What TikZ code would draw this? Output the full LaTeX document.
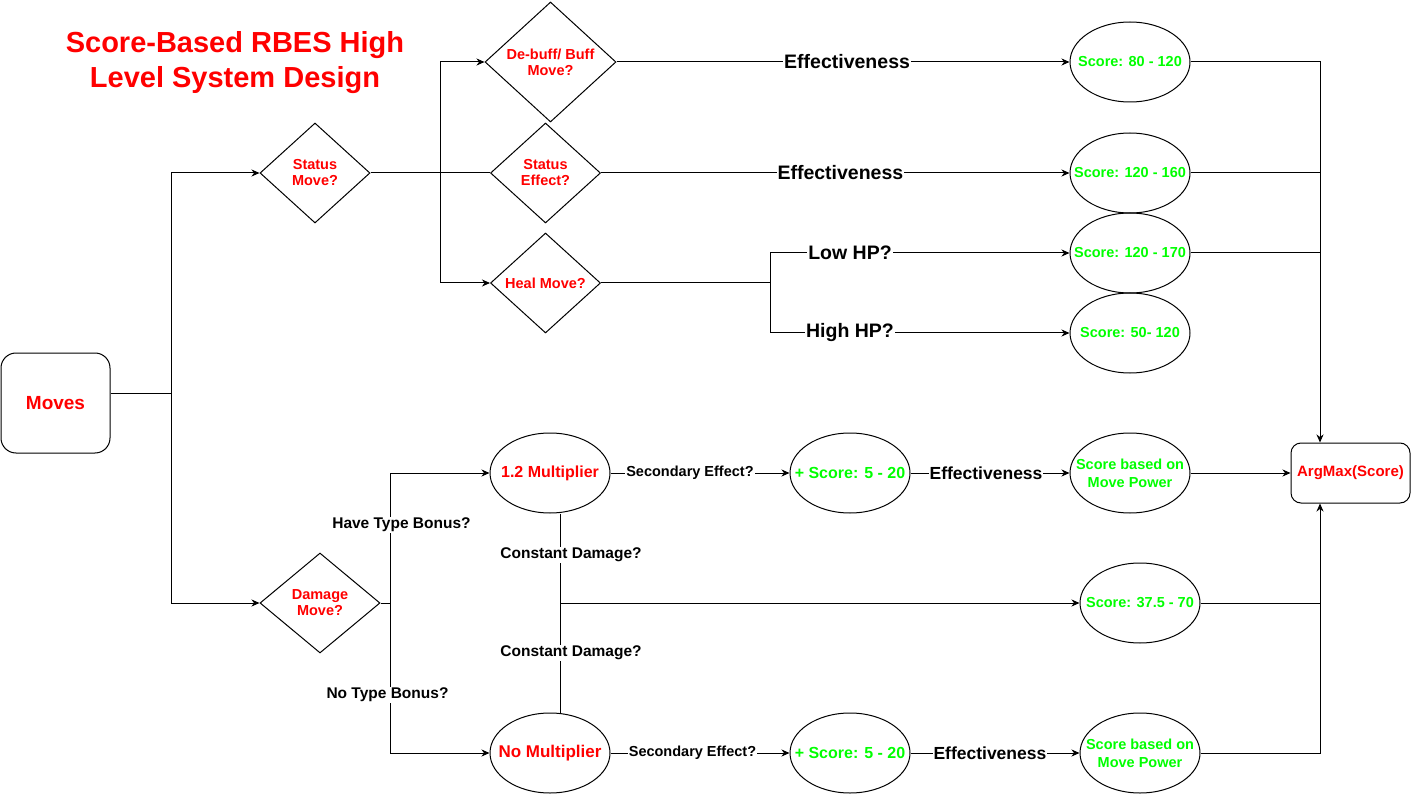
\documentclass[tikz,border=0pt]{standalone}
\usepackage{fontspec}
\setmainfont{Liberation Sans}
\usetikzlibrary{shapes.geometric,arrows.meta}
\definecolor{myred}{RGB}{255,0,0}
\definecolor{mygreen}{RGB}{0,255,0}
\newcommand{\fsz}[2]{\fontsize{#1}{#2}\selectfont}
\begin{document}
\begin{tikzpicture}[x=1pt,y=-1pt,line width=1pt,
  arr/.style={-{Stealth[length=8pt,width=7pt,inset=2.5pt]}},
  dia/.style={draw,diamond,inner sep=0pt},
  ell/.style={draw,ellipse,minimum width=120pt,minimum height=80pt,inner sep=0pt},
  rtxt/.style={text=myred,font=\bfseries\fsz{14.5}{16}},
  gtxt/.style={text=mygreen,font=\bfseries\fsz{14.5}{18},align=center,inner sep=0pt},
  biglbl/.style={fill=white,inner sep=1pt,font=\bfseries\fsz{19.5}{22}},
  medlbl/.style={fill=white,inner sep=1pt,font=\bfseries\fsz{17.5}{20}},
  smlbl/.style={fill=white,inner sep=1pt,font=\bfseries\fsz{14.5}{17}},
  qlbl/.style={fill=white,inner sep=1pt,font=\bfseries\fsz{15.5}{18}}
]
\tikzset{rtxt/.append style={align=center,inner sep=0pt}}
\useasboundingbox (0,0) rectangle (1411,794);
% title
\node[text=myred,font=\bfseries\fsz{29}{34.5},align=center] (title) at (235,62.5) {Score-Based RBES High\\Level System Design};
% boxes
\node[draw,rounded corners=15pt,minimum width=109pt,minimum height=100pt,text=myred,font=\bfseries\fsz{19}{22}] (moves) at (55.5,403) {Moves};
\node[draw,rounded corners=10pt,minimum width=119pt,minimum height=60pt,text=myred,font=\bfseries\fsz{15}{18}] (am) at (1350.5,473) {ArgMax(Score)};
% diamonds
\node[dia,minimum width=110pt,minimum height=100pt,label={[rtxt]center:{Status\\Move?}}] (sm) at (315,173) {};
\node[dia,minimum width=131pt,minimum height=120pt,label={[rtxt]center:{De-buff/ Buff\\Move?}}] (deb) at (550.5,62) {};
\node[dia,minimum width=110pt,minimum height=100pt,label={[rtxt]center:{Status\\Effect?}}] (se) at (545.5,173) {};
\node[dia,minimum width=110pt,minimum height=100pt,label={[rtxt]center:{Heal Move?}}] (heal) at (545.5,283) {};
\node[dia,minimum width=120pt,minimum height=100pt,label={[rtxt]center:{Damage\\Move?}}] (dm) at (320,603) {};
% ellipses
\node[ell,label={[gtxt]center:{Score: 80 - 120}}] (s80) at (1130,62) {};
\node[ell,label={[gtxt]center:{Score: 120 - 160}}] (s160) at (1130,173) {};
\node[ell,label={[gtxt]center:{Score: 120 - 170}}] (s170) at (1130,253) {};
\node[ell,label={[gtxt]center:{Score: 50- 120}}] (s50) at (1130,333) {};
\node[ell,label={[gtxt]center:{Score based on\\Move Power}}] (sb1) at (1130,473) {};
\node[ell,label={[gtxt]center:{Score: 37.5 - 70}}] (s375) at (1140,603) {};
\node[ell,label={[gtxt]center:{Score based on\\Move Power}}] (sb2) at (1140,753) {};
\node[ell,label={[text=myred,font=\bfseries\fsz{16}{18}]center:{1.2 Multiplier}}] (m12) at (550,473) {};
\node[ell,label={[text=myred,font=\bfseries\fsz{17}{19}]center:{No Multiplier}}] (nom) at (550,753) {};
\node[ell,label={[text=mygreen,font=\bfseries\fsz{16}{18}]center:{+ Score: 5 - 20}}] (ps1) at (850,473) {};
\node[ell,label={[text=mygreen,font=\bfseries\fsz{16}{18}]center:{+ Score: 5 - 20}}] (ps2) at (850,753) {};
% junctions
\coordinate (j1) at (171,393);
\coordinate (j2) at (440,173);
\coordinate (j3) at (770,283);
\coordinate (j4) at (390,603);
\coordinate (cd) at (560,603);
\coordinate (rx) at (1320,0);
% left connectors
\draw ([yshift=10pt]moves.east) -- (j1);
\draw[arr] (j1) |- (sm.west);
\draw[arr] (j1) |- (dm.west);
\draw (sm.east) -- (se.west);
\draw[arr] (j2) |- (deb.west);
\draw[arr] (j2) |- (heal.west);
% status rows
\draw[arr] (deb.east) -- node[biglbl,pos=0.509]{Effectiveness} (s80.west);
\draw[arr] (se.east) -- node[biglbl,pos=0.511]{Effectiveness} (s160.west);
\draw (heal.east) -- (j3);
\draw[arr] (j3) |- (j3 |- s170.west) -- node[biglbl,pos=0.267]{Low HP?} (s170.west);
\draw[arr] (j3) |- (j3 |- s50.west) -- node[biglbl,pos=0.267]{High HP?} (s50.west);
% damage part
\draw (dm.east) -- (j4);
\draw[arr] (j4) |- (m12.west);
\draw[arr] (j4) |- (nom.west);
\draw ([xshift=10pt]m12.south) -- ([xshift=10pt]nom.north);
\draw[arr] (cd) -- (s375.west);
\draw[arr] (m12.east) -- node[smlbl,pos=0.444]{Secondary Effect?} (ps1.west);
\draw[arr] (ps1.east) -- node[medlbl,pos=0.475]{Effectiveness} (sb1.west);
\draw[arr] (nom.east) -- node[smlbl,pos=0.458]{Secondary Effect?} (ps2.west);
\draw[arr] (ps2.east) -- node[medlbl,pos=0.47]{Effectiveness} (sb2.west);
% labels on vertical lines
\node[qlbl] (htb) at (401.5,525) {Have Type Bonus?};
\node[qlbl] (ntb) at (387.5,695) {No Type Bonus?};
\node[qlbl] (cd1) at (571,555) {Constant Damage?};
\node[qlbl] (cd2) at (571,653) {Constant Damage?};
% right side
\draw[arr] (s80.east) -| (am.north -| rx);
\draw (s160.east) -- (s160.east -| rx);
\draw (s170.east) -- (s170.east -| rx);
\draw[arr] (sb2.east) -| (am.south -| rx);
\draw (s375.east) -- (s375.east -| rx);
\draw[arr] (sb1.east) -- (am.west);
\end{tikzpicture}
\end{document}
